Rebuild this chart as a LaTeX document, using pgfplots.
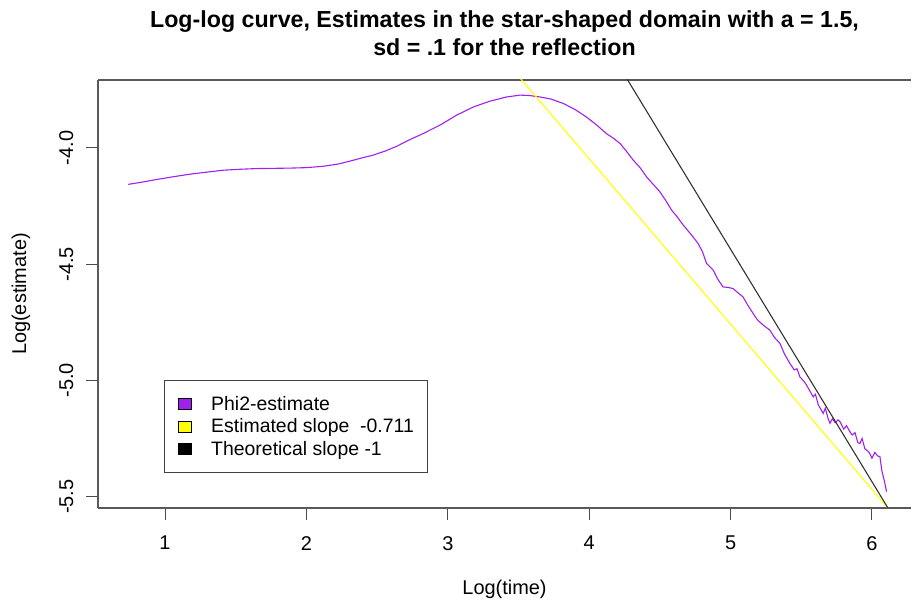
\documentclass[border=0pt]{standalone}
\usepackage{pgfplots}
\pgfplotsset{compat=1.18}
\usepackage{fontspec}
\setmainfont{Liberation Sans}
\definecolor{phipurple}{HTML}{A020F0}
\definecolor{ryellow}{HTML}{FFFF00}
\begin{document}
\begin{tikzpicture}
\path[use as bounding box] (-98bp,-97bp) rectangle (814bp,508bp);
\begin{axis}[
  at={(0,0)}, anchor=south west,
  scale only axis, width=813bp, height=428bp,
  xmin=0.526, xmax=6.276, ymin=-5.549, ymax=-3.708,
  axis x line=box, axis y line=left,
  x axis line style={-, black!65, line width=1.2bp},
  y axis line style={-, black!65, line width=1.2bp},
  xtick pos=bottom, ytick pos=left,
  xtick={1,2,3,4,5,6},
  ytick={-5.5,-5,-4.5,-4}, yticklabels={-5.5,-5.0,-4.5,-4.0},
  tick align=outside, major tick length=12bp,
  tick style={black!70, line width=1bp},
  /pgf/number format/assume math mode=true,
  xticklabel style={font=\fontsize{20}{22}\selectfont, anchor=north, inner sep=0pt, yshift=-16bp},
  yticklabel style={font=\fontsize{20}{22}\selectfont, xshift=-12.5bp, rotate=90, anchor=south, inner sep=0pt},
  xlabel={Log(time)}, ylabel={Log(estimate)},
  every axis x label/.style={at={(axis description cs:0.5,0)}, anchor=center, yshift=-81bp, font=\fontsize{20}{22}\selectfont},
  every axis y label/.style={at={(axis description cs:0,0.5)}, xshift=-77bp, rotate=90, anchor=center, font=\fontsize{20}{22}\selectfont},
  title={Log-log curve, Estimates in the star-shaped domain with a = 1.5,\\sd = .1 for the reflection},
  title style={at={(axis description cs:0.5,1)}, anchor=south, yshift=15bp, align=center, font=\fontsize{23.3}{28}\selectfont\bfseries},
  legend image code/.code={\draw[#1] (3bp,-5.5bp) rectangle (16bp,5.5bp); \path (35bp,0bp);},
  legend cell align=left,
  legend style={at={(axis description cs:0.0812,0.299)}, anchor=north west, draw=black!75, line width=0.8bp,
    font=\fontsize{19.5}{21}\selectfont, inner xsep=14bp, inner ysep=15.5bp, row sep=7.2bp,
    nodes={inner sep=0pt}},
]
\addplot[phipurple, line width=1.1bp, forget plot] coordinates {
(0.740,-4.157) (0.85,-4.146) (0.941,-4.136) (1.06,-4.124) (1.177,-4.113) (1.30,-4.104)
(1.412,-4.096) (1.53,-4.092) (1.648,-4.089) (1.77,-4.088) (1.884,-4.087) (2.00,-4.085)
(2.120,-4.079) (2.22,-4.070) (2.308,-4.057) (2.40,-4.042) (2.473,-4.031) (2.56,-4.013)
(2.639,-3.993) (2.73,-3.965) (2.827,-3.938) (2.945,-3.902) (3.063,-3.859) (3.181,-3.824)
(3.298,-3.799) (3.416,-3.781) (3.511,-3.773) (3.58,-3.775) (3.652,-3.781) (3.73,-3.790)
(3.817,-3.809) (3.90,-3.835) (3.98,-3.867) (4.05,-3.900) (4.12,-3.938) (4.17,-3.958)
(4.218,-3.981) (4.26,-4.012) (4.312,-4.053) (4.36,-4.085) (4.406,-4.125) (4.45,-4.155)
(4.50,-4.189) (4.54,-4.225) (4.583,-4.268) (4.62,-4.295) (4.665,-4.332) (4.72,-4.372)
(4.770,-4.411) (4.80,-4.445) (4.83,-4.497) (4.877,-4.526) (4.91,-4.565) (4.946,-4.598)
(4.98,-4.600) (5.017,-4.605) (5.05,-4.622) (5.088,-4.641) (5.12,-4.675) (5.159,-4.712)
(5.19,-4.740) (5.23,-4.762) (5.278,-4.784) (5.31,-4.815) (5.349,-4.841) (5.38,-4.885)
(5.419,-4.927) (5.45,-4.955) (5.47,-4.950) (5.49,-4.985) (5.52,-5.005) (5.537,-5.02)
(5.56,-5.045) (5.584,-5.071) (5.60,-5.060) (5.62,-5.105) (5.655,-5.142) (5.67,-5.120)
(5.69,-5.165) (5.703,-5.185) (5.72,-5.165) (5.74,-5.182) (5.76,-5.170) (5.774,-5.178)
(5.80,-5.210) (5.82,-5.195) (5.844,-5.221) (5.86,-5.235) (5.88,-5.225) (5.90,-5.268)
(5.915,-5.271) (5.93,-5.25) (5.95,-5.295) (5.962,-5.30) (5.98,-5.31) (6.00,-5.335)
(6.02,-5.31) (6.04,-5.325) (6.056,-5.328) (6.07,-5.39) (6.08,-5.414) (6.09,-5.44)
(6.103,-5.479)
};
\addplot[ryellow, line width=1.1bp, forget plot] coordinates {(0,-1.203) (7,-6.180)};
\addplot[black!80, line width=1.1bp, forget plot] coordinates {(0,0.564) (7,-6.436)};
\addlegendimage{fill=phipurple, draw=black}
\addlegendentry{Phi2-estimate}
\addlegendimage{fill=ryellow, draw=black}
\addlegendentry{Estimated slope~ -0.711}
\addlegendimage{fill=black, draw=black}
\addlegendentry{Theoretical slope -1}
\end{axis}
\end{tikzpicture}
\end{document}
